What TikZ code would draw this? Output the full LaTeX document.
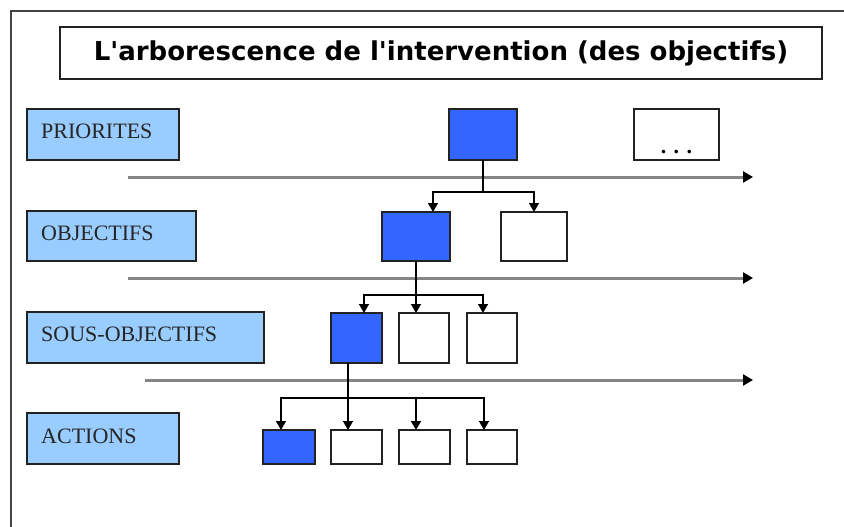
\documentclass[tikz,border=0pt]{standalone}
\usepackage{fontspec}
\setmainfont{Liberation Serif}
\newfontfamily\titlefont{DejaVu Sans}
\usetikzlibrary{arrows.meta,calc}
\definecolor{catblue}{HTML}{99CCFF}
\definecolor{deepblue}{HTML}{3366FF}
\definecolor{framegray}{HTML}{444444}
\definecolor{axisgray}{HTML}{858585}
\definecolor{boxline}{HTML}{222222}
\begin{document}
\begin{tikzpicture}[x=1pt,y=-1pt,
  box/.style={draw=boxline,line width=1.3pt,anchor=north west,inner sep=0pt,outer sep=0pt},
  catbox/.style={box,fill=catblue},
  bluebox/.style={box,fill=deepblue},
  whitebox/.style={box,fill=white},
  cattext/.style={anchor=base west,inner sep=0pt,font=\fontsize{22}{26}\selectfont,text=black!85},
  link/.style={draw=black,line width=1.4pt},
  arr/.style={link,-{Triangle[width=10pt,length=9pt]}},
  axis/.style={draw=axisgray,line width=3pt,-{Triangle[width=11pt,length=10pt,color=black]}}
]
\useasboundingbox (0,0) rectangle (844,527);
% outer frame
\draw[framegray,line width=1.5pt] (11,527) -- (11,11) -- (844,11);
% title
\node[whitebox,minimum width=762pt,minimum height=52pt] (title) at (60,27) {};
\node[inner sep=0pt,font=\titlefont\bfseries\fontsize{26}{30}\selectfont] (titletext) at (title.center) {L'arborescence de l'intervention (des objectifs)};
% category boxes
\node[catbox,minimum width=152pt,minimum height=51pt] (pri) at (27,109) {};
\node[catbox,minimum width=169pt,minimum height=50pt] (obj) at (27,211) {};
\node[catbox,minimum width=237pt,minimum height=51pt] (sous) at (27,312) {};
\node[catbox,minimum width=152pt,minimum height=51pt] (act) at (27,413) {};
\node[cattext] (pritext) at ($(pri.north west)+(14,30)$) {PRIORITES};
\node[cattext] (objtext) at ($(obj.north west)+(14,29)$) {OBJECTIFS};
\node[cattext] (soustext) at ($(sous.north west)+(14,29)$) {SOUS-OBJECTIFS};
\node[cattext] (acttext) at ($(act.north west)+(14,30)$) {ACTIONS};
% axes
\coordinate (ax1s) at (128,177); \coordinate (ax1e) at (753,177);
\coordinate (ax2s) at (128,278); \coordinate (ax2e) at (753,278);
\coordinate (ax3s) at (145,380); \coordinate (ax3e) at (753,380);
\draw[axis] (ax1s) -- (ax1e);
\draw[axis] (ax2s) -- (ax2e);
\draw[axis] (ax3s) -- (ax3e);
% tree boxes
\node[bluebox,minimum width=68pt,minimum height=51pt] (p1) at (449,109) {};
\node[whitebox,minimum width=85pt,minimum height=51pt] (p2) at (634,109) {};
\node[anchor=base,inner sep=0pt,font=\bfseries\fontsize{22}{26}\selectfont] (dots) at ($(p2.north)+(0,44)$) {.\,\,.\,\,.};
\node[bluebox,minimum width=68pt,minimum height=49pt] (o1) at (382,212) {};
\node[whitebox,minimum width=66pt,minimum height=49pt] (o2) at (501,212) {};
\node[bluebox,minimum width=51pt,minimum height=50pt] (s1) at (331,313) {};
\node[whitebox,minimum width=50pt,minimum height=50pt] (s2) at (399,313) {};
\node[whitebox,minimum width=50pt,minimum height=50pt] (s3) at (467,313) {};
\node[bluebox,minimum width=52pt,minimum height=34pt] (a1) at (263,430) {};
\node[whitebox,minimum width=51pt,minimum height=34pt] (a2) at (331,430) {};
\node[whitebox,minimum width=51pt,minimum height=34pt] (a3) at (399,430) {};
\node[whitebox,minimum width=50pt,minimum height=34pt] (a4) at (467,430) {};
% level 1 -> 2
\coordinate (j1) at ($(p1.south)+(0,32)$);
\draw[link] (p1.south) -- (j1);
\draw[arr] (j1) -| ([xshift=17pt]o1.north);
\draw[arr] (j1) -| (o2.north);
% level 2 -> 3
\coordinate (j2) at ($(o1.south)+(0,34)$);
\draw[arr] (o1.south) -- (o1.south |- s2.north);
\draw[arr] (j2) -| ([xshift=7.5pt]s1.north);
\draw[arr] (j2) -| ([xshift=-9pt]s3.north);
% level 3 -> 4
\coordinate (s1o) at ([xshift=-8.5pt]s1.south);
\coordinate (j3) at ($(s1o)+(0,35)$);
\draw[arr] (s1o) -- (s1o |- a2.north);
\draw[arr] (j3) -| ([xshift=-8pt]a1.north);
\draw[arr] (j3) -| ([xshift=-8.5pt]a3.north);
\draw[arr] (j3) -| ([xshift=-8pt]a4.north);
\end{tikzpicture}
\end{document}
